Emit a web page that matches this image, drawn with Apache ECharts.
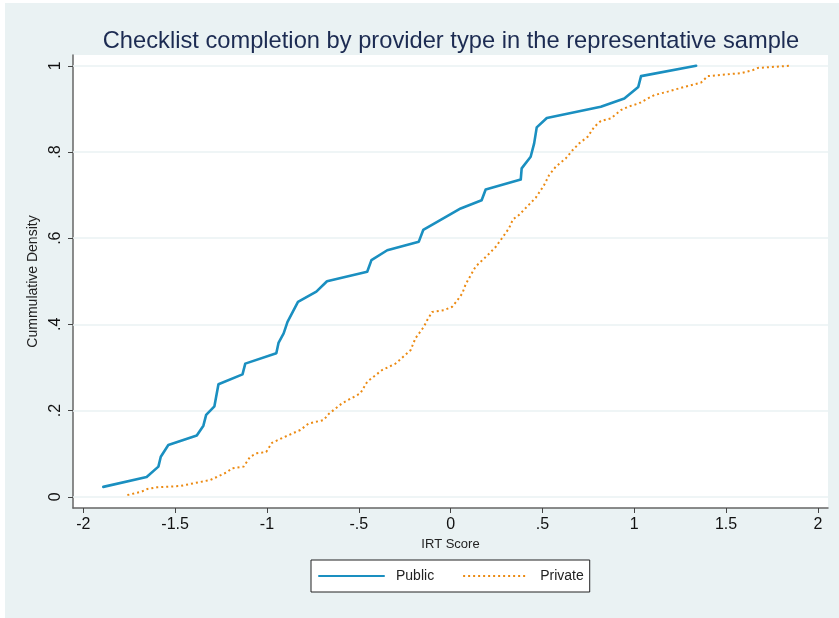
<!DOCTYPE html>
<html>
<head>
<meta charset="utf-8">
<script src="https://cdn.jsdelivr.net/npm/echarts@6/dist/echarts.min.js"></script>
<style>html,body{margin:0;padding:0;background:#fff}#c{width:839px;height:618px}</style>
</head>
<body>
<div id="c"></div>
<script>
var titleText = 'Checklist completion by provider type in the representative sample';
var xTicks = [-2, -1.5, -1, -0.5, 0, 0.5, 1, 1.5, 2];
var yTicks = [0, 0.2, 0.4, 0.6, 0.8, 1];
var seriesNames = ['Public', 'Private'];

var publicX = [-1.891,-1.655,-1.591,-1.578,-1.537,-1.382,-1.346,-1.331,-1.286,-1.264,-1.133,-1.118,-0.949,-0.937,-0.909,-0.888,-0.831,-0.731,-0.673,-0.454,-0.431,-0.345,-0.173,-0.149,-0.073,0.055,0.169,0.191,0.382,0.387,0.436,0.455,0.469,0.524,0.818,0.946,1.022,1.037,1.337];
var publicY = [0.023,0.046,0.070,0.093,0.120,0.142,0.165,0.190,0.210,0.261,0.284,0.309,0.333,0.357,0.379,0.406,0.452,0.476,0.500,0.522,0.549,0.572,0.592,0.619,0.638,0.669,0.688,0.713,0.736,0.762,0.789,0.820,0.857,0.879,0.905,0.924,0.951,0.976,1.000];

var privateX = [-1.760,-1.682,-1.651,-1.600,-1.473,-1.309,-1.273,-1.218,-1.191,-1.127,-1.091,-1.055,-1.004,-0.973,-0.909,-0.818,-0.773,-0.691,-0.664,-0.591,-0.491,-0.454,-0.373,-0.300,-0.218,-0.191,-0.146,-0.127,-0.100,-0.036,0.009,0.037,0.064,0.082,0.136,0.205,0.246,0.285,0.318,0.340,0.373,0.418,0.464,0.509,0.536,0.573,0.627,0.664,0.700,0.746,0.782,0.818,0.873,0.927,0.973,1.027,1.073,1.109,1.182,1.273,1.364,1.400,1.582,1.646,1.673,1.846];
var privateY = [0.004,0.012,0.018,0.022,0.025,0.039,0.046,0.057,0.066,0.070,0.093,0.101,0.104,0.125,0.138,0.155,0.170,0.178,0.192,0.217,0.240,0.267,0.294,0.309,0.340,0.368,0.394,0.410,0.429,0.433,0.441,0.456,0.472,0.493,0.534,0.562,0.580,0.603,0.623,0.644,0.654,0.674,0.694,0.723,0.746,0.766,0.785,0.804,0.820,0.835,0.858,0.872,0.878,0.897,0.906,0.913,0.924,0.932,0.940,0.951,0.961,0.976,0.983,0.990,0.995,1.000];

function zip(a, b) { return a.map(function (v, i) { return [v, b[i]]; }); }
function stataFmt(v) {
  var s = String(Math.round(v * 100) / 100);
  return s.replace(/^(-?)0\./, '$1.');
}

var FONT = '"Liberation Sans", Arial, sans-serif';
var chart = echarts.init(document.getElementById('c'), null, {renderer: 'canvas'});
chart.setOption({
  backgroundColor: '#ffffff',
  animation: false,
  graphic: [{
    type: 'rect', z: -100, silent: true,
    shape: {x: 5, y: 3, width: 834, height: 615},
    style: {fill: '#eaf2f3'}
  }],
  title: {
    text: titleText, left: 446, top: 24, textAlign: 'center',
    textStyle: {fontFamily: FONT, fontSize: 23.7, fontWeight: 'normal', color: '#1c2b52'}
  },
  grid: {left: 73, right: 11, top: 55, bottom: 110, show: true, backgroundColor: '#ffffff', borderWidth: 0},
  legend: {
    data: seriesNames, left: 311, top: 560, orient: 'horizontal',
    padding: [9, 6, 9, 7], itemWidth: 65, itemHeight: 14, itemGap: 28,
    backgroundColor: '#ffffff', borderColor: '#222', borderWidth: 1,
    itemStyle: {color: 'rgba(0,0,0,0)', borderWidth: 0, opacity: 0},
    textStyle: {fontFamily: FONT, fontSize: 14, color: '#222', padding: [0, 0, 0, 7]}
  },
  xAxis: {
    type: 'value', min: -2.056, max: 2.055,
    name: 'IRT Score', nameLocation: 'middle', nameGap: 30,
    nameTextStyle: {fontFamily: FONT, fontSize: 13, color: '#222'},
    axisLine: {show: true, onZero: false, lineStyle: {color: '#666', width: 1.5}},
    axisTick: {show: true, length: 5, customValues: xTicks, lineStyle: {color: '#444'}},
    axisLabel: {customValues: xTicks, margin: 9, fontFamily: FONT, fontSize: 16, color: '#111', formatter: stataFmt},
    splitLine: {show: false}
  },
  yAxis: {
    type: 'value', min: -0.026, max: 1.025,
    name: 'Cummulative Density', nameLocation: 'middle', nameGap: 27,
    nameTextStyle: {fontFamily: FONT, fontSize: 14, color: '#222'},
    axisLine: {show: true, onZero: false, lineStyle: {color: '#666', width: 1.5}},
    axisTick: {show: true, length: 5, customValues: yTicks, lineStyle: {color: '#444'}},
    axisLabel: {customValues: yTicks, rotate: 90, margin: 9, fontFamily: FONT, fontSize: 16, color: '#111', formatter: stataFmt},
    splitLine: {show: false}
  },
  series: [{
    name: seriesNames[0], type: 'line', data: zip(publicX, publicY),
    showSymbol: false, symbol: 'none', z: 3,
    lineStyle: {color: '#1a8fc0', width: 2.6, join: 'round', cap: 'round'},
    itemStyle: {color: '#1a8fc0'},
    markLine: {
      silent: true, symbol: 'none', label: {show: false}, z: 1,
      lineStyle: {color: '#eaf2f3', width: 1.5, type: 'solid'},
      data: yTicks.map(function (v) { return {yAxis: v}; })
    }
  }, {
    name: seriesNames[1], type: 'line', data: zip(privateX, privateY),
    showSymbol: false, symbol: 'none', z: 4,
    lineStyle: {color: '#ec8a12', width: 2, type: [2, 3], cap: 'butt'},
    itemStyle: {color: '#ec8a12'}
  }]
});
</script>
</body>
</html>
